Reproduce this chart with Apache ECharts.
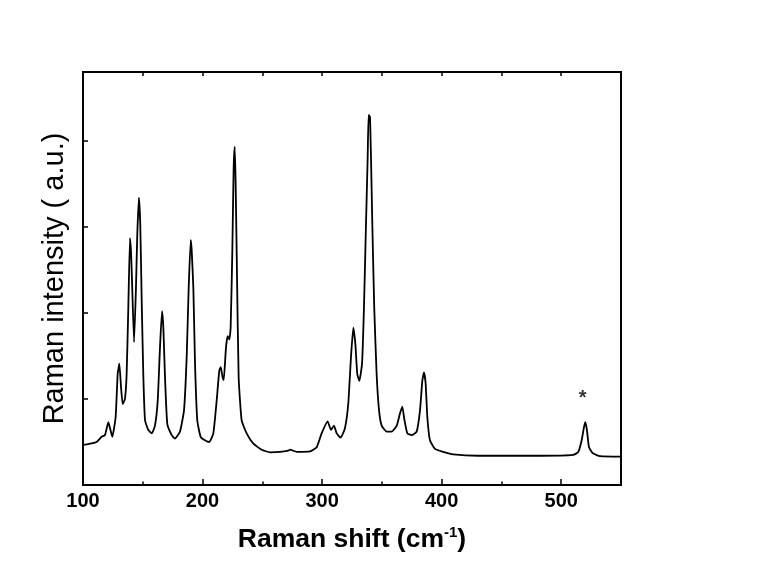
<!DOCTYPE html>
<html>
<head>
<meta charset="utf-8">
<script src="https://cdn.jsdelivr.net/npm/echarts@6/dist/echarts.min.js"></script>
<style>
  html, body { margin: 0; padding: 0; background: #fff; }
  #chart { width: 762px; height: 579px; }
</style>
</head>
<body>
<div id="chart"></div>
<script>
// Raman shift (cm-1) values
const ramanShift = [
  100, 101.7, 106, 111.4, 115.6, 118.4, 121.2, 122.8, 124.5, 127.3,
  129.0, 130.4, 131.8, 133.2, 135.1, 136.5, 137.9, 139.3, 140.2, 141.0,
  142.7, 144.3, 145.4, 146.8, 147.9, 149.1, 150.5, 151.9, 154.6, 157.5,
  160.2, 162.5, 164.4, 166.1, 167.2, 168.6, 170.5, 174.2, 176.9, 181.1,
  184.5, 186.7, 188.4, 190.1, 190.9, 192.3, 193.7, 195.6, 198.4, 202.0,
  205.6, 209.0, 211.8, 214.0, 215.2, 216.8, 217.7, 219.6, 221.0, 222.4,
  223.5, 224.9, 226.0, 226.9, 227.7, 228.8, 230.2, 232.7, 236.9, 242.5,
  249.5, 256.4, 264.8, 271.7, 273.1, 278.7, 289.9, 295.5, 299.6, 304.6,
  307.4, 309.9, 312.2, 315.5, 319.1, 321.9, 324.2, 326.1, 327.8, 329.4,
  331.1, 333.4, 335.0, 336.7, 338.1, 338.9, 340.0, 340.9, 342.0, 343.6,
  345.6, 347.6, 349.8, 354.0, 358.2, 362.4, 365.1, 367.1, 368.7, 371.3,
  374.9, 379.1, 381.9, 383.8, 385.2, 386.6, 388.0, 390.2, 394.4, 401.3,
  409.7, 430.6, 454.4, 482.3, 510.1, 514.3, 517.1, 519.0, 520.1, 521.5,
  523.2, 526.3, 532.4, 550
];
// Raman intensity (arbitrary units) at each shift
const intensity = [
  0.47, 0.47, 0.48, 0.50, 0.56, 0.58, 0.73, 0.65, 0.56, 0.79,
  1.29, 1.41, 1.14, 0.94, 1.00, 1.29, 2.06, 2.87, 2.70, 2.37,
  1.66, 2.29, 2.91, 3.34, 3.03, 2.14, 1.25, 0.75, 0.64, 0.60,
  0.69, 0.98, 1.60, 2.02, 1.83, 1.25, 0.71, 0.58, 0.54, 0.62,
  0.87, 1.48, 2.29, 2.85, 2.73, 2.29, 1.41, 0.75, 0.56, 0.52,
  0.50, 0.60, 0.98, 1.33, 1.37, 1.25, 1.22, 1.60, 1.73, 1.69,
  1.83, 2.72, 3.68, 3.93, 3.49, 2.45, 1.25, 0.75, 0.60, 0.48,
  0.41, 0.38, 0.385, 0.40, 0.41, 0.385, 0.39, 0.44, 0.60, 0.74,
  0.64, 0.69, 0.60, 0.55, 0.66, 0.95, 1.50, 1.83, 1.64, 1.29,
  1.21, 1.41, 2.06, 3.03, 3.80, 4.30, 4.28, 3.80, 3.03, 2.06,
  1.29, 0.87, 0.69, 0.62, 0.62, 0.69, 0.83, 0.91, 0.77, 0.60,
  0.58, 0.62, 0.87, 1.21, 1.31, 1.18, 0.79, 0.52, 0.42, 0.385,
  0.355, 0.34, 0.34, 0.34, 0.35, 0.385, 0.52, 0.67, 0.73, 0.64,
  0.44, 0.37, 0.335, 0.33
];
// Annotation marker (asterisk) above the 520 cm-1 peak
const starPoint = [518, 1.0];
const starText = '*';
// Axis tick label values shown
const xTickLabels = [100, 200, 300, 400, 500];

const FONT = 'Liberation Sans, Arial, sans-serif';
const lineData = ramanShift.map((x, i) => [x, intensity[i]]);

const chart = echarts.init(document.getElementById('chart'), null, { renderer: 'canvas' });
chart.setOption({
  backgroundColor: '#fff',
  animation: false,
  grid: {
    left: 83, right: 141, top: 72, bottom: 94,
    show: true, borderColor: '#000', borderWidth: 2, backgroundColor: 'transparent'
  },
  xAxis: [
    {
      type: 'value', position: 'bottom', min: 100, max: 550, interval: 100,
      axisLine: { show: true, lineStyle: { color: '#000', width: 2 } },
      axisTick: { show: true, inside: true, length: 6, lineStyle: { color: '#000', width: 1.5 } },
      axisLabel: {
        show: true, margin: 6, color: '#000', fontSize: 20, fontWeight: 'bold', fontFamily: FONT,
        formatter: v => (xTickLabels.indexOf(v) >= 0 ? String(v) : '')
      },
      splitLine: { show: false },
      name: '{t|Raman shift (cm}{s|-1}{t|)}',
      nameLocation: 'middle', nameGap: 40,
      nameTextStyle: {
        rich: {
          t: { fontSize: 26.5, fontWeight: 'bold', fontFamily: FONT, color: '#000', lineHeight: 30 },
          s: { fontSize: 15, fontWeight: 'bold', fontFamily: FONT, color: '#000', verticalAlign: 'top', lineHeight: 30, padding: [0, 0, 12, 0] }
        }
      }
    },
    {
      type: 'value', position: 'bottom', min: 100, max: 550, interval: 50,
      axisLine: { show: false },
      axisTick: { show: true, inside: true, length: 3.5, lineStyle: { color: '#000', width: 1.5 } },
      axisLabel: { show: false }, splitLine: { show: false }
    },
    {
      type: 'value', position: 'top', min: 100, max: 550, interval: 50,
      axisLine: { show: false },
      axisTick: { show: true, inside: true, length: 4, lineStyle: { color: '#000', width: 1.5 } },
      axisLabel: { show: false }, splitLine: { show: false }
    }
  ],
  yAxis: [
    {
      type: 'value', position: 'left', min: 0, max: 4.8, interval: 1,
      axisLine: { show: true, lineStyle: { color: '#000', width: 2 } },
      axisTick: { show: true, inside: true, length: 5, lineStyle: { color: '#000', width: 1.5 } },
      axisLabel: { show: false },
      splitLine: { show: false },
      name: 'Raman intensity ( a.u.)',
      nameLocation: 'middle', nameGap: 14, nameRotate: 90,
      nameTextStyle: { fontSize: 29, fontWeight: 'normal', fontFamily: FONT, color: '#000' }
    }
  ],
  series: [
    {
      type: 'line', xAxisIndex: 0, yAxisIndex: 0,
      data: lineData, showSymbol: false, symbol: 'none', smooth: 0.15,
      lineStyle: { color: '#000', width: 1.8 }
    },
    {
      type: 'scatter', xAxisIndex: 0, yAxisIndex: 0,
      data: [starPoint], symbolSize: 0,
      label: {
        show: true, position: 'inside', formatter: starText,
        color: '#000', fontSize: 20, fontWeight: 'bold', fontFamily: FONT
      }
    }
  ]
});
</script>
</body>
</html>
